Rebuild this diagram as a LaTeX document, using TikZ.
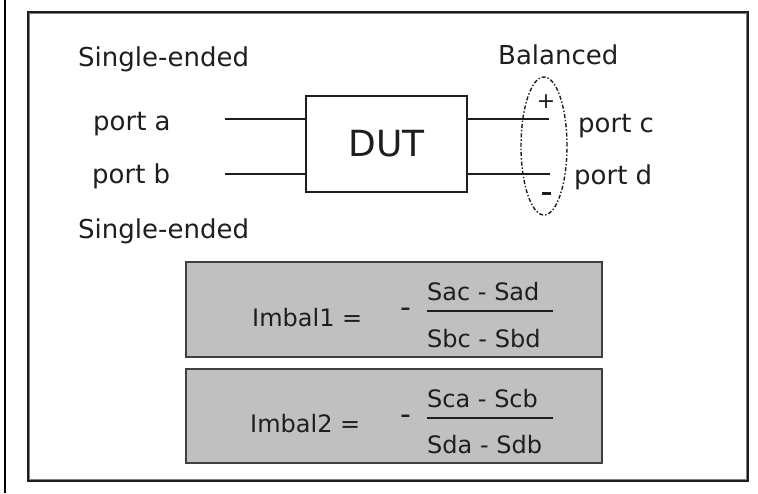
\documentclass[tikz,border=0pt]{standalone}
\usepackage{fontspec}
\setmainfont{DejaVu Sans}
\usetikzlibrary{shapes.geometric}
\definecolor{ink}{HTML}{1E1E1E}
\definecolor{boxgray}{HTML}{C0C0C0}
\begin{document}
\begin{tikzpicture}[x=1pt,y=-1pt,
  lbl/.style={font=\fontsize{26}{28}\selectfont, inner sep=0, anchor=base west, text=ink},
  frm/.style={font=\fontsize{24}{26}\selectfont, inner sep=0, anchor=base west, text=ink},
  neg/.style={font=\fontsize{30}{32}\selectfont, inner sep=0, anchor=center, text=ink},
  wire/.style={line width=1.3pt, draw=ink},
  fbox/.style={draw=ink!85, line width=2pt, fill=boxgray},
  dashdotline/.style={line width=1.4pt, draw=ink, dash pattern=on 4pt off 2pt on 1.4pt off 2pt}]
\useasboundingbox (0,0) rectangle (758,493);
\fill[white] (0,0) rectangle (758,493);
% frame
\draw[line width=2.5pt, black] (5,0) -- (5,493);
\draw[line width=2.2pt, ink] (28,12) rectangle (748,481);
\draw[line width=1pt, gray] (29.8,13.8) rectangle (746.2,479.2);
% labels
\node[lbl] (se1) at (78,66) {Single-ended};
\node[lbl] (pa) at (93,130) {port a};
\node[lbl] (pb) at (92,183) {port b};
\node[lbl] (se2) at (78,238) {Single-ended};
\node[lbl] (bl) at (498,64) {Balanced};
\node[lbl] (pc) at (578,132) {port c};
\node[lbl] (pd) at (574,184) {port d};
% DUT
\node[draw=ink, line width=1.4pt, minimum width=161pt, minimum height=96pt, inner sep=0,
      font=\fontsize{36}{38}\selectfont, text=ink] (dut) at (386.5,144) {DUT};
\coordinate (a0) at (225,119);
\coordinate (b0) at (225,174);
\coordinate (c1) at (549,119);
\coordinate (d1) at (550,174);
\draw[wire] (a0) -- (a0 -| dut.west);
\draw[wire] (b0) -- (b0 -| dut.west);
\draw[wire] (c1 -| dut.east) -- (c1);
\draw[wire] (d1 -| dut.east) -- (d1);
% balanced ellipse
\node[ellipse, dashdotline, minimum width=46pt, minimum height=138pt, inner sep=0] (bal) at (544,146) {};
\node[font=\fontsize{22}{24}\selectfont, inner sep=0, text=ink] (plus) at (546,102) {+};
\node[fill=ink, inner sep=0, minimum width=9pt, minimum height=3pt] (minus) at (546,193) {};
% formula boxes
\node[fbox, minimum width=416pt, minimum height=95pt, inner sep=0] (box1) at (394,309.5) {};
\node[fbox, minimum width=416pt, minimum height=94pt, inner sep=0] (box2) at (394,416) {};
\node[frm] (im1) at (252,326) {Imbal1 =};
\node[neg] (m1) at (406,313) {-};
\node[frm] (n1) at (427,300) {Sac - Sad};
\node[frm] (d1t) at (427,347) {Sbc - Sbd};
\coordinate (f1a) at (427,311);
\coordinate (f1b) at (553,311);
\draw[line width=2pt, ink] (f1a) -- (f1b);
\node[frm] (im2) at (250,432) {Imbal2 =};
\node[neg] (m2) at (406,420) {-};
\node[frm] (n2) at (427,407) {Sca - Scb};
\node[frm] (d2t) at (427,453) {Sda - Sdb};
\coordinate (f2a) at (427,418);
\coordinate (f2b) at (553,418);
\draw[line width=2pt, ink] (f2a) -- (f2b);
\end{tikzpicture}
\end{document}
